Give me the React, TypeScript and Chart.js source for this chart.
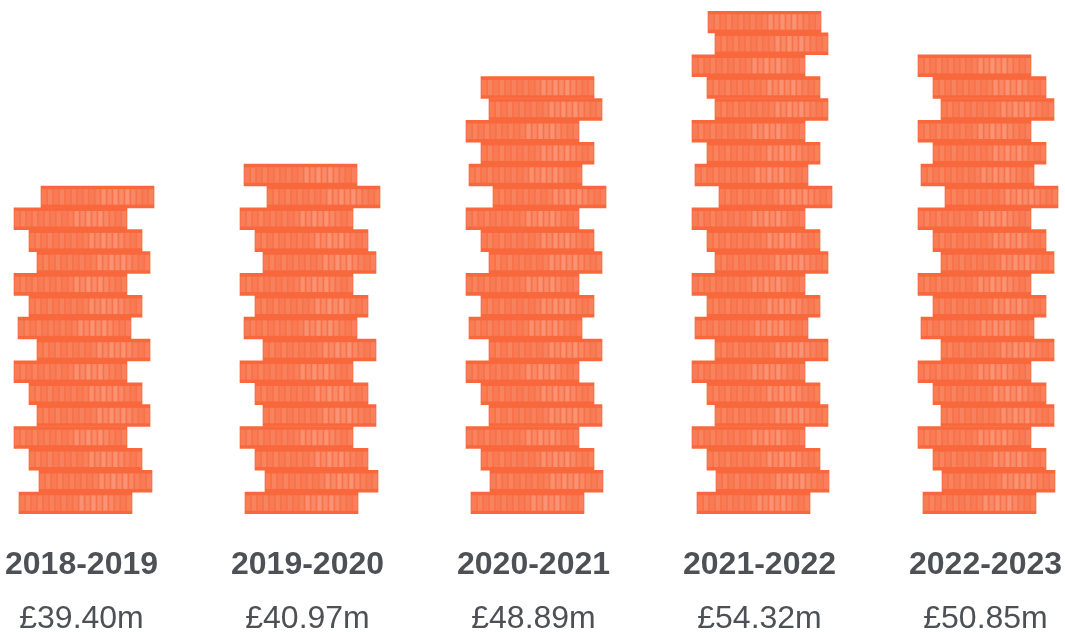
import React, { useEffect, useRef } from "react";
import { Chart, registerables } from "chart.js";

Chart.register(...registerables);

const years = ["2018-2019", "2019-2020", "2020-2021", "2021-2022", "2022-2023"];
const totals = ["£39.40m", "£40.97m", "£48.89m", "£54.32m", "£50.85m"];
const columnStarts = [14, 240, 466, 692, 918];
const rowLabels = Array.from({ length: 23 }, (_, i) => String(23 - i));
const coinSpan = 113;

// Coin offsets within each stack, top coin first
const coins1819 = [27, 0, 15, 23, 0, 15, 4, 23, 0, 15, 23, 0, 15, 25, 5];
const coins1920 = [4, 27, 0, 15, 23, 0, 15, 4, 23, 0, 15, 23, 0, 15, 25, 5];
const coins2021 = [15, 23, 0, 15, 3, 27, 0, 15, 23, 0, 15, 3, 23, 0, 15, 23, 0, 15, 24, 5];
const coins2122 = [16, 23, 0, 15, 23, 0, 15, 3, 27, 0, 15, 23, 0, 15, 3, 23, 0, 15, 23, 0, 15, 24, 5];
const coins2223 = [0, 15, 23, 0, 15, 3, 27, 0, 15, 23, 0, 15, 3, 23, 0, 15, 23, 0, 15, 24, 5];
const stacks = [coins1819, coins1920, coins2021, coins2122, coins2223];

const EDGE = "#F8683C";
const PANEL_ALPHAS = [0.08, 0.12, 0.07, 0.12, 0.07, 0.11, 0.07, 0.11, 0.07, 0.1, 0.22, 0.16, 0.24, 0.18, 0.24, 0.16, 0.11, 0.07, 0.11];

const coinTexture = {
  id: "coinTexture",
  afterDatasetsDraw(chart: any) {
    const { ctx } = chart;
    chart.data.datasets.forEach((_: any, di: number) => {
      chart.getDatasetMeta(di).data.forEach((bar: any) => {
        if (bar.skip || !Number.isFinite(bar.base)) return;
        const p = bar.getProps(["x", "y", "base", "height"], true);
        const left = Math.min(p.x, p.base);
        const width = Math.abs(p.x - p.base);
        const top = p.y - p.height / 2;
        const bandH = 3.2;
        const bodyH = p.height - bandH * 2;
        const pitch = width / PANEL_ALPHAS.length;
        ctx.save();
        ctx.fillStyle = "rgba(255,255,255,0.07)";
        ctx.fillRect(left, top + bandH, width, bodyH);
        PANEL_ALPHAS.forEach((a, k) => {
          ctx.fillStyle = `rgba(255,255,255,${a})`;
          ctx.fillRect(left + k * pitch + 1, top + bandH, pitch - 1.7, bodyH);
        });
        ctx.restore();
      });
    });
  },
};

const captions = {
  id: "captions",
  afterDraw(chart: any) {
    const { ctx, scales } = chart;
    ctx.save();
    ctx.textAlign = "center";
    ctx.textBaseline = "alphabetic";
    ctx.fillStyle = "#4D5155";
    years.forEach((year, i) => {
      const cx = scales.x.getPixelForValue(columnStarts[i] + 67.5);
      ctx.font = 'bold 32px "Liberation Sans", Arial, sans-serif';
      ctx.fillText(year, cx, 574);
      ctx.font = '32px "Liberation Sans", Arial, sans-serif';
      ctx.fillText(totals[i], cx, 628);
    });
    ctx.restore();
  },
};

export default function App() {
  const ref = useRef<HTMLCanvasElement>(null);
  useEffect(() => {
    const datasets = stacks.map((offsets, i) => {
      const pad = rowLabels.length - offsets.length;
      const data: any[] = rowLabels.map((_, r) =>
        r < pad ? null : [columnStarts[i] + offsets[r - pad], columnStarts[i] + offsets[r - pad] + coinSpan]
      );
      return {
        label: years[i],
        data,
        backgroundColor: EDGE,
        borderWidth: 0,
        categoryPercentage: 1,
        barPercentage: 1,
        grouped: false,
      };
    });
    const chart = new Chart(ref.current!, {
      type: "bar",
      data: { labels: rowLabels, datasets },
      plugins: [coinTexture, captions],
      options: {
        indexAxis: "y",
        animation: false,
        responsive: false,
        layout: { padding: { top: 11, bottom: 118, left: 0, right: 0 } },
        plugins: { legend: { display: false }, tooltip: { enabled: false } },
        scales: {
          x: { type: "linear", min: 0, max: 1065, display: false },
          y: { type: "category", display: false },
        },
      },
    } as any);
    return () => chart.destroy();
  }, []);
  return (
    <div style={{ position: "absolute", left: 0, top: 0, width: 1065, height: 632, background: "#fff" }}>
      <canvas ref={ref} width={1065} height={632} style={{ display: "block" }} />
    </div>
  );
}
